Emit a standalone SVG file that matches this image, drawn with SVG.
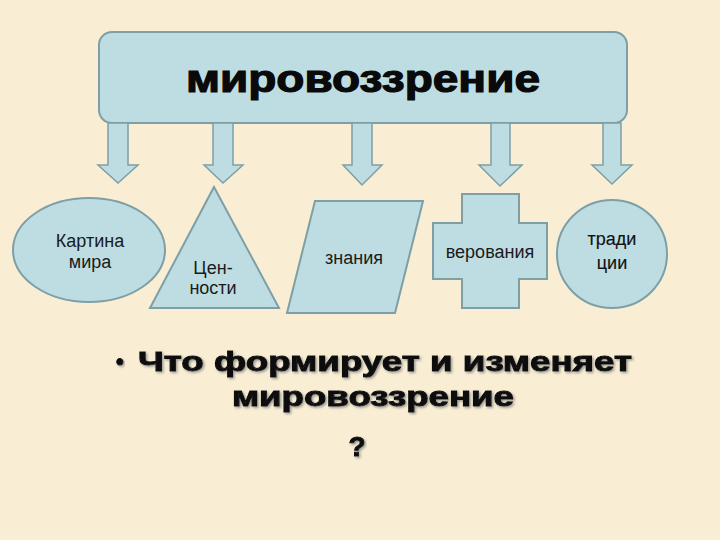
<svg xmlns="http://www.w3.org/2000/svg" width="720" height="540" viewBox="0 0 720 540">
<defs>
<style>
.shape{fill:#BEDDE3;stroke:#7E9FA6;stroke-width:2}
.arrow{fill:#BEDDE3;stroke:#7E9FA6;stroke-width:1.5;stroke-linejoin:miter}
.lbl{font-family:"Liberation Sans",Arial,sans-serif;font-size:18px;fill:#1a1a1a;text-anchor:middle}
.lblb{font-family:"Liberation Sans",Arial,sans-serif;font-size:18px;fill:#111;stroke:#111;stroke-width:0.15;text-anchor:middle}
.title{font-family:"Liberation Sans",Arial,sans-serif;font-weight:bold;fill:#0a0a0a;stroke:#0a0a0a;stroke-width:1.2;text-anchor:middle}
.q{font-family:"Liberation Sans",Arial,sans-serif;font-weight:bold;fill:#111;stroke:#111;stroke-width:1;filter:url(#sh)}
</style>
<filter id="sh" x="-5%" y="-20%" width="110%" height="150%">
<feDropShadow dx="1.5" dy="1.5" stdDeviation="0.8" flood-color="#777" flood-opacity="0.7"/>
</filter>
</defs>
<rect width="720" height="540" fill="#F9EED4"/>

<g id="top">
<rect class="shape" x="99" y="32" width="528" height="91" rx="13"/>
<text class="title" x="363" y="92" font-size="38" textLength="354" lengthAdjust="spacingAndGlyphs">мировоззрение</text>
</g>

<g id="connectors">
<path class="arrow" d="M108,123 V165 H98 L118,183 L138,165 H128 V123 Z"/>
<path class="arrow" d="M213,123 V165 H204 L223,183 L243,165 H233 V123 Z"/>
<path class="arrow" d="M352,123 V165 H343 L362,185 L382,165 H372 V123 Z"/>
<path class="arrow" d="M491,123 V165 H479 L500,186 L522,165 H510 V123 Z"/>
<path class="arrow" d="M603,123 V165 H592 L612,184 L632,165 H621 V123 Z"/>
</g>

<g id="kartina">
<ellipse class="shape" cx="89" cy="250" rx="76" ry="52"/>
<text class="lbl" x="90" y="247">Картина</text>
<text class="lbl" x="90" y="268">мира</text>
</g>

<g id="tsennosti">
<polygon class="shape" points="214,187 279,308 150,308"/>
<text class="lbl" x="213" y="274">Цен-</text>
<text class="lbl" x="213" y="294">ности</text>
</g>

<g id="znaniya">
<polygon class="shape" points="315,201 423,201 395,313 287,313"/>
<text class="lbl" x="354" y="264">знания</text>
</g>

<g id="verovaniya">
<polygon class="shape" points="462,194 519,194 519,223 547,223 547,279 519,279 519,308 462,308 462,279 433,279 433,223 462,223"/>
<text class="lbl" x="490" y="258">верования</text>
</g>

<g id="traditsii">
<ellipse class="shape" cx="612" cy="254" rx="55" ry="54"/>
<text class="lblb" x="612" y="245">тради</text>
<text class="lblb" x="612" y="269">ции</text>
</g>

<g id="question">
<text class="q" x="116" y="369" font-size="22">•</text>
<text class="q" x="138" y="371" font-size="28" textLength="494" lengthAdjust="spacingAndGlyphs">Что формирует  и изменяет</text>
<text class="q" x="232" y="406" font-size="28" textLength="282" lengthAdjust="spacingAndGlyphs">мировоззрение</text>
<text class="q" x="357" y="456" font-size="28" text-anchor="middle">?</text>
</g>
</svg>
